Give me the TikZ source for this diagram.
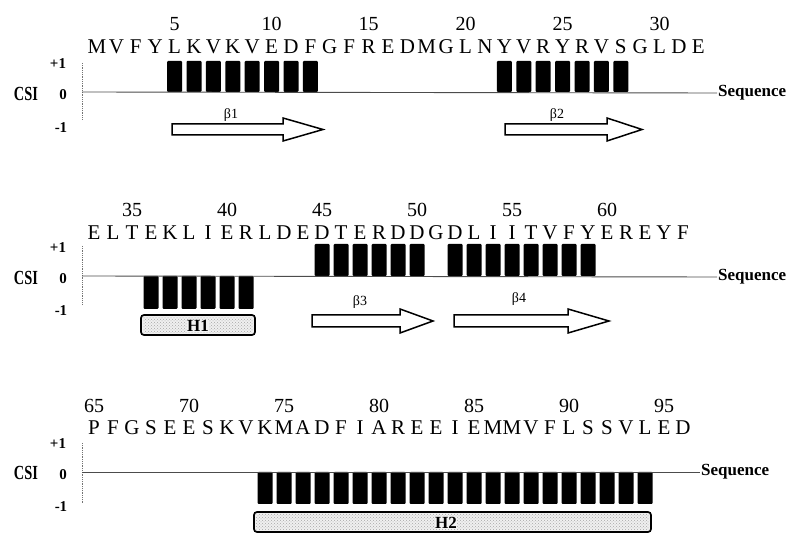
\documentclass[tikz,border=0pt]{standalone}
\usepackage{fontspec}
\setmainfont{Liberation Serif}
\usetikzlibrary{patterns}
\begin{document}
\begin{tikzpicture}[x=1pt,y=-1pt,
  seq/.style={font=\fontsize{21}{21}\selectfont, inner sep=0pt},
  num/.style={font=\fontsize{20}{20}\selectfont, inner sep=0pt},
  csi/.style={font=\bfseries\fontsize{20}{20}\selectfont, xscale=0.72, inner sep=0pt},
  tick/.style={font=\bfseries\fontsize{15}{15}\selectfont, inner sep=0pt},
  seqlab/.style={font=\bfseries\fontsize{17}{17}\selectfont, inner sep=1pt, anchor=west},
  bar/.style={fill=black, rounded corners=1pt},
  zl/.style={draw=black!70, line width=0.9pt},
  axisline/.style={draw=black!55, line width=0.8pt, densely dotted},
  strand/.style={draw=black, fill=white, line width=1.5pt, line join=miter},
  blab/.style={font=\fontsize{14}{14}\selectfont, inner sep=0pt},
  helix/.style={draw=black, fill=gray!12, rounded corners=3pt, line width=1.7pt},
  helixdots/.style={pattern=crosshatch dots, pattern color=gray!70},
  hlab/.style={font=\bfseries\fontsize{17}{17}\selectfont, inner sep=0.5pt, fill=gray!10}
]
\useasboundingbox (0,0) rectangle (793,534);

% ---------------- Row 1 ----------------
\foreach \n in {5,10,...,30}
  \node[num] (ra\n) at ({97+(\n-1)*19.4},24) {\n};
\foreach \c [count=\i] in {M,V,F,Y,L,K,V,K,V,E,D,F,G,F,R,E,D,M,G,L,N,Y,V,R,Y,R,V,S,G,L,D,E}
  \node[seq] (sa\i) at ({97+(\i-1)*19.4},47) {\c};
\foreach \r in {5,...,12}
  \fill[bar] ({97+(\r-1)*19.4-7.5},92) rectangle ++(15,-31);
\foreach \r in {22,...,28}
  \fill[bar] ({97+(\r-1)*19.4-7.5},92) rectangle ++(15,-31);
\node[csi] (csi1) at (26,94) {CSI};
\node[tick] (p1) at (58,64) {+1};
\node[tick] (o1) at (63,95) {0};
\node[tick] (m1) at (61,128) {-1};
\coordinate (ta1) at (82,63);
\coordinate (tb1) at (82,119);
\draw[axisline] (ta1) -- (tb1);
\coordinate (z1) at (82,92);
\node[seqlab] (sq1) at (717,93) {Sequence};
\draw[zl] (z1) -- (sq1.west);
\draw[strand] (172,124) -- (283,124) -- (283,118) -- (323,129.5) -- (283,141) -- (283,135) -- (172,135) -- cycle;
\node[blab] (b1) at (231,115) {β1};
\draw[strand] (505,124) -- (607,124) -- (607,118) -- (642,129.5) -- (607,141) -- (607,135) -- (505,135) -- cycle;
\node[blab] (b2) at (557,115) {β2};

% ---------------- Row 2 ----------------
\foreach \n in {35,40,...,60}
  \node[num] (rb\n) at ({94+(\n-33)*19},210) {\n};
\foreach \c [count=\i] in {E,L,T,E,K,L,I,E,R,L,D,E,D,T,E,R,D,D,G,D,L,I,I,T,V,F,Y,E,R,E,Y,F}
  \node[seq] (sb\i) at ({94+(\i-1)*19},233) {\c};
\foreach \r in {45,...,50}
  \fill[bar] ({94+(\r-33)*19-7.5},276) rectangle ++(15,-32);
\foreach \r in {52,...,59}
  \fill[bar] ({94+(\r-33)*19-7.5},276) rectangle ++(15,-32);
\foreach \r in {36,...,41}
  \fill[bar] ({94+(\r-33)*19-7.5},276) rectangle ++(15,33);
\node[csi] (csi2) at (26,278) {CSI};
\node[tick] (p2) at (58,248) {+1};
\node[tick] (o2) at (63,279) {0};
\node[tick] (m2) at (61,311) {-1};
\coordinate (ta2) at (82,246);
\coordinate (tb2) at (82,304);
\draw[axisline] (ta2) -- (tb2);
\coordinate (z2) at (82,276);
\node[seqlab] (sq2) at (717,277) {Sequence};
\draw[zl] (z2) -- (sq2.west);
\draw[helix] (141,315) rectangle (255,335);
\fill[helixdots, rounded corners=2pt] (143,317) rectangle (253,333);
\node[hlab] (h1) at (198,326) {H1};
\draw[strand] (312,315) -- (400,315) -- (400,309) -- (433,321) -- (400,333) -- (400,327) -- (312,327) -- cycle;
\node[blab] (b3) at (360,302) {β3};
\draw[strand] (454,315) -- (568,315) -- (568,309) -- (609,321) -- (568,333) -- (568,327) -- (454,327) -- cycle;
\node[blab] (b4) at (519,299) {β4};

% ---------------- Row 3 ----------------
\foreach \n in {65,70,...,95}
  \node[num] (rc\n) at ({94+(\n-65)*19},406) {\n};
\foreach \c [count=\i] in {P,F,G,S,E,E,S,K,V,K,M,A,D,F,I,A,R,E,E,I,E,M,M,V,F,L,S,S,V,L,E,D}
  \node[seq] (sc\i) at ({94+(\i-1)*19},428) {\c};
\foreach \r in {74,...,94}
  \fill[bar] ({94+(\r-65)*19-7.5},472) rectangle ++(15,32);
\node[csi] (csi3) at (26,473) {CSI};
\node[tick] (p3) at (58,444) {+1};
\node[tick] (o3) at (63,475) {0};
\node[tick] (m3) at (61,507) {-1};
\coordinate (ta3) at (82,443);
\coordinate (tb3) at (82,503);
\draw[axisline] (ta3) -- (tb3);
\coordinate (z3) at (82,472);
\node[seqlab] (sq3) at (700,472) {Sequence};
\draw[zl] (z3) -- (sq3.west);
\draw[helix] (254,512) rectangle (651,532);
\fill[helixdots, rounded corners=2pt] (256,514) rectangle (649,530);
\node[hlab] (h2) at (446,523) {H2};
\end{tikzpicture}
\end{document}
